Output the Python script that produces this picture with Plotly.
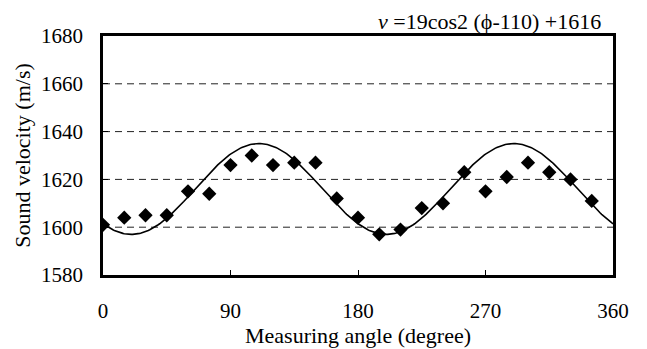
import numpy as np
import plotly.graph_objects as go

# Measured data
angles = [0, 15, 30, 45, 60, 75, 90, 105, 120, 135, 150, 165,
          180, 195, 210, 225, 240, 255, 270, 285, 300, 315, 330, 345]
velocity = [1601, 1604, 1605, 1605, 1615, 1614, 1626, 1630, 1626, 1627, 1627, 1612,
            1604, 1597, 1599, 1608, 1610, 1623, 1615, 1621, 1627, 1623, 1620, 1611]

# Fitted curve parameters as stated on the chart: v = A cos2(phi - P) + C
fit_A = 19
fit_P = 110
fit_C = 1616

x_ticks = [0, 90, 180, 270, 360]
y_ticks = [1580, 1600, 1620, 1640, 1660, 1680]
grid_levels = [1600, 1620, 1640, 1660]

phi = np.linspace(0, 360, 361)
fit_v = fit_A * np.cos(np.radians(2 * (phi - fit_P))) + fit_C

FONT = "Liberation Serif, Times New Roman, serif"

fig = go.Figure()
fig.add_trace(go.Scatter(x=phi, y=fit_v, mode="lines",
                         line=dict(color="black", width=1.6), showlegend=False))
fig.add_trace(go.Scatter(x=angles, y=velocity, mode="markers",
                         marker=dict(symbol="diamond", size=11, color="black"),
                         showlegend=False))

for g in grid_levels:
    fig.add_shape(type="line", xref="x", yref="y", x0=0, x1=360, y0=g, y1=g,
                  line=dict(color="#222222", width=1, dash="7px,5px"), layer="below")

fig.update_layout(
    width=647, height=349,
    margin=dict(l=103, r=34, t=36, b=74),
    paper_bgcolor="white", plot_bgcolor="white",
    font=dict(family=FONT, size=21, color="black"),
    xaxis=dict(range=[0, 360], tickvals=x_ticks, ticks="inside", ticklen=5,
               tickcolor="black", showgrid=False, zeroline=False,
               showline=True, linecolor="black", linewidth=2.5, mirror=True,
               title=dict(text="Measuring angle (degree)",
                          font=dict(family=FONT, size=22, color="black"), standoff=0),
               tickfont=dict(family=FONT, size=21, color="black"),
               ticklabelstandoff=15),
    yaxis=dict(range=[1580, 1680], tickvals=y_ticks, ticks="inside", ticklen=5,
               tickcolor="black", showgrid=False, zeroline=False,
               showline=True, linecolor="black", linewidth=2.5, mirror=True,
               title=dict(text="Sound velocity (m/s)",
                          font=dict(family=FONT, size=22, color="black"), standoff=5),
               tickfont=dict(family=FONT, size=21, color="black"),
               ticklabelstandoff=13),
    annotations=[dict(xref="paper", yref="paper", x=0.98, y=1.0, xanchor="right",
                      yanchor="bottom", yshift=0, showarrow=False,
                      text="<i>v</i> =19cos2 (ϕ-110) +1616",
                      font=dict(family=FONT, size=22, color="black"))],
)

fig.write_html("out.html")
